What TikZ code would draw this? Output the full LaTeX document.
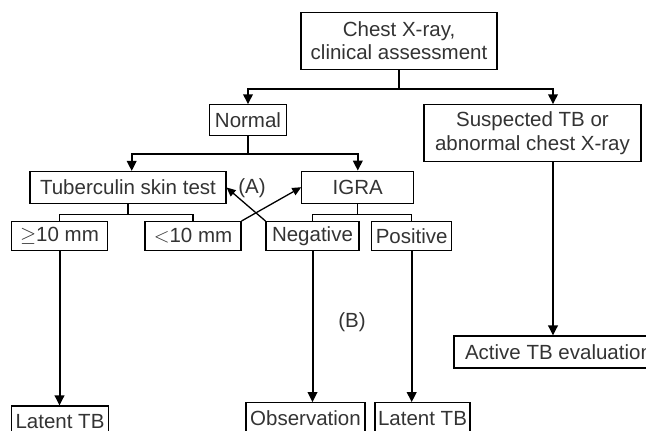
\documentclass[tikz,border=0pt]{standalone}
\usepackage{fontspec}
\setmainfont{Liberation Sans}
\usepackage{tikz}
\usetikzlibrary{arrows.meta,calc,positioning}
\definecolor{boxtext}{HTML}{333333}

\begin{document}
\begin{tikzpicture}[
    x=1pt,y=-1pt,
    >={Triangle[length=10pt,width=9.5pt]},
    box/.style={draw=black,line width=1.1pt,inner sep=0pt,text=boxtext,
      font=\fontsize{20.5}{23.5}\selectfont,align=center},
    link/.style={line width=1.1pt},
    arr/.style={->,line width=2pt},
    cross/.style={->,line width=1.3pt,>={Triangle[length=9pt,width=8pt]}},
    tag/.style={text=boxtext,font=\fontsize{20.5}{23.5}\selectfont,inner sep=0pt},
  ]
    \useasboundingbox (0,0) rectangle (646,431);

    \node[box,minimum width=196pt,minimum height=57pt] (chest) at (399,40.7) {Chest X-ray,\\clinical assessment};
    \node[box,minimum width=77pt,minimum height=31pt] (normal) at (248,120.3) {Normal};
    \node[box,minimum width=217pt,minimum height=57pt] (susp) at (532.5,133.3) {Suspected TB or\\abnormal chest X-ray};
    \node[box,minimum width=196pt,minimum height=32pt] (tst) at (128,187.5) {Tuberculin skin test};
    \node[box,minimum width=112pt,minimum height=32pt] (igra) at (357.8,187.2) {IGRA};
    \node[box,minimum width=96pt,minimum height=28.5pt] (ge10) at (59.5,235.8) {$\geq$10 mm};
    \node[box,minimum width=96pt,minimum height=28.5pt] (lt10) at (193,235.8) {$<$10 mm};
    \node[box,minimum width=93pt,minimum height=28.5pt] (neg) at (312.5,235.8) {Negative};
    \node[box,minimum width=80pt,minimum height=28.5pt] (pos) at (411.7,236) {Positive};
    \node[box,minimum width=209pt,minimum height=32pt] (active) at (558.5,352) {Active TB evaluation};
    \node[box,minimum width=97pt,minimum height=31pt] (latent1) at (60,421.5) {Latent TB};
    \node[box,minimum width=119pt,minimum height=31pt] (obs) at (305.5,418.2) {Observation};
    \node[box,minimum width=95pt,minimum height=31pt] (latent2) at (422.5,418.2) {Latent TB};
    \node[tag] (lblA) at (252,188.3) {(A)};
    \node[tag] (lblB) at (352,321.7) {(B)};

    \coordinate (split1) at ([yshift=-19.3pt]chest.south);
    \coordinate (split2) at ([yshift=-17.6pt]normal.south);
    \coordinate (split3) at ([yshift=-10.3pt]tst.south);
    \coordinate (split4) at ([yshift=-10.8pt]igra.south);

    \draw[link] (chest.south) -- (split1);
    \draw[arr] (split1) -| (normal.north);
    \draw[arr] (split1) -| ([xshift=20.5pt]susp.north);

    \draw[link] (normal.south) -- (split2);
    \draw[arr] (split2) -| ([xshift=3.7pt]tst.north);
    \draw[arr] (split2) -| (igra.north);

    \draw[link] (tst.south) -- (split3);
    \draw[link] (split3) -| (ge10.north);
    \draw[link] (split3) -| (lt10.north);
    \draw[link] (igra.south) -- (split4);
    \draw[link] (split4) -| (neg.north);
    \draw[link] (split4) -| (pos.north);

    \draw[cross] (lt10.north east) -- (igra.west);
    \draw[cross] (neg.north west) -- (tst.east);

    \draw[arr] (ge10.south) -- (ge10.south |- latent1.north);
    \draw[arr] (neg.south) -- (neg.south |- obs.north);
    \draw[arr] (pos.south) -- (pos.south |- latent2.north);
    \draw[arr] ([xshift=20.5pt]susp.south) -- ([xshift=20.5pt]susp.south |- active.north);
  \end{tikzpicture}
\end{document}
